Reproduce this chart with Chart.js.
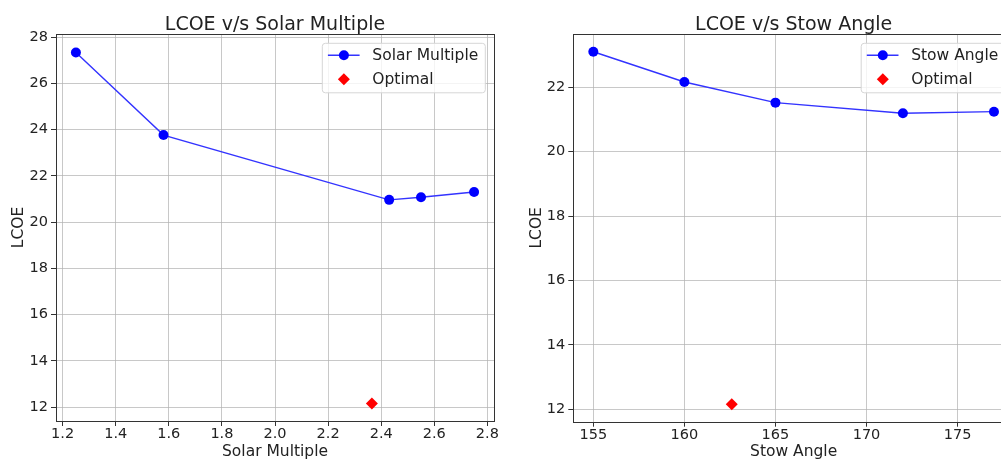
<!DOCTYPE html>
<html>
<head>
<meta charset="utf-8">
<script src="https://cdn.jsdelivr.net/npm/chart.js@4.4.0/dist/chart.umd.min.js"></script>
<style>
  html, body { margin: 0; padding: 0; background: #fff; overflow: hidden; }
  #wrap { position: relative; width: 1001px; height: 461px; overflow: hidden; }
  #c1 { position: absolute; left: 0; top: 0; }
  #c2 { position: absolute; left: 500px; top: 0; }
</style>
</head>
<body>
<div id="wrap">
  <canvas id="c1" width="500" height="461"></canvas>
  <canvas id="c2" width="530" height="461"></canvas>
</div>
<script>
// ---------- data ----------
const solarMultiple = [1.25, 1.58, 2.43, 2.55, 2.75];
const lcoeSolar = [27.33, 23.76, 20.96, 21.07, 21.30];
const solarOptimalX = [2.365];
const solarOptimalY = [12.16];

const stowAngle = [155, 160, 165, 172, 177];
const lcoeStow = [23.10, 22.16, 21.52, 21.19, 21.24];
const stowOptimalX = [162.6];
const stowOptimalY = [12.16];

// tick labels
const solarXTicks = [1.2, 1.4, 1.6, 1.8, 2.0, 2.2, 2.4, 2.6, 2.8];
const solarYTicks = [12, 14, 16, 18, 20, 22, 24, 26, 28];
const stowXTicks = [155, 160, 165, 170, 175];
const stowYTicks = [12, 14, 16, 18, 20, 22];

const FONT = 'DejaVu Sans';
const TEXT = '#222';
const GRID = 'rgba(176,176,176,0.7)';

const pts = (xs, ys) => xs.map((x, i) => ({ x: x, y: ys[i] }));

// title, spines and a matplotlib style legend
const framePlugin = {
  id: 'frame',
  afterDraw(chart, args, opts) {
    const ctx = chart.ctx;
    const a = chart.chartArea;
    ctx.save();
    // title
    ctx.fillStyle = TEXT;
    ctx.font = `19px "${FONT}"`;
    ctx.textAlign = 'center';
    ctx.textBaseline = 'alphabetic';
    ctx.fillText(opts.title, (a.left + a.right) / 2, 30);
    // spines
    ctx.strokeStyle = '#333';
    ctx.lineWidth = 1;
    ctx.strokeRect(Math.round(a.left) + 0.5, Math.round(a.top) + 0.5,
      Math.round(a.right - a.left), Math.round(a.bottom - a.top));
    // legend
    ctx.font = `15.5px "${FONT}"`;
    const sets = chart.data.datasets;
    const tw = Math.max(...sets.map(d => ctx.measureText(d.label).width));
    const bw = 50 + tw + 7;
    const bh = 49.5;
    const bx = a.right - 8.7 - bw;
    const by = a.top + 9.3;
    ctx.beginPath();
    ctx.roundRect(bx, by, bw, bh, 3);
    ctx.fillStyle = 'rgba(255,255,255,0.8)';
    ctx.fill();
    ctx.strokeStyle = '#d6d6d6';
    ctx.stroke();
    sets.forEach((d, i) => {
      const y = by + 12 + i * 24;
      const mx = bx + 21.6;
      if (d.showLine) {
        ctx.beginPath();
        ctx.moveTo(bx + 5.6, y);
        ctx.lineTo(bx + 37.3, y);
        ctx.strokeStyle = d.borderColor;
        ctx.lineWidth = d.borderWidth;
        ctx.stroke();
      }
      ctx.fillStyle = d.pointBackgroundColor;
      ctx.beginPath();
      if (d.pointStyle === 'circle') {
        ctx.arc(mx, y, d.pointRadius, 0, Math.PI * 2);
      } else {
        const r = d.pointRadius;
        ctx.moveTo(mx, y - r); ctx.lineTo(mx + r, y); ctx.lineTo(mx, y + r); ctx.lineTo(mx - r, y);
        ctx.closePath();
      }
      ctx.fill();
      ctx.fillStyle = TEXT;
      ctx.textAlign = 'left';
      ctx.textBaseline = 'middle';
      ctx.fillText(d.label, bx + 50, y + 1);
    });
    ctx.restore();
  }
};

function makeChart(id, cfg) {
  return new Chart(document.getElementById(id), {
    type: 'scatter',
    data: {
      datasets: [{
        label: cfg.seriesLabel,
        data: pts(cfg.xs, cfg.ys),
        showLine: true,
        borderColor: '#3333ff',
        borderWidth: 1.4,
        pointStyle: 'circle',
        pointRadius: 5,
        pointHoverRadius: 5,
        pointBackgroundColor: '#0000ff',
        pointBorderWidth: 0
      }, {
        label: 'Optimal',
        data: pts(cfg.ox, cfg.oy),
        showLine: false,
        pointStyle: 'rectRot',
        pointRadius: 6,
        pointHoverRadius: 6,
        pointBackgroundColor: '#ff0000',
        pointBorderWidth: 0
      }]
    },
    options: {
      responsive: false,
      animation: false,
      layout: { padding: { left: 0, right: cfg.padRight, top: 34, bottom: 0 } },
      plugins: {
        legend: { display: false },
        tooltip: { enabled: false },
        frame: { title: cfg.title }
      },
      scales: {
        x: {
          type: 'linear',
          min: cfg.xMin, max: cfg.xMax,
          afterFit: s => { s.height = cfg.xAxisH; },
          afterBuildTicks: s => { s.ticks = cfg.xTicks.map(v => ({ value: v })); },
          grid: { color: GRID, lineWidth: 1, drawTicks: true, tickLength: 5, tickColor: '#333', tickWidth: 1 },
          border: { display: false },
          ticks: {
            color: TEXT, font: { family: FONT, size: 14.5 }, padding: 0,
            maxRotation: 0, autoSkip: false,
            callback: cfg.xFmt
          },
          title: {
            display: true, text: cfg.xLabel, color: TEXT,
            font: { family: FONT, size: 15.5 }, padding: { top: 0, bottom: 0 }
          }
        },
        y: {
          type: 'linear',
          min: cfg.yMin, max: cfg.yMax,
          afterFit: s => { s.width = cfg.yAxisW; },
          afterBuildTicks: s => { s.ticks = cfg.yTicks.map(v => ({ value: v })); },
          grid: { color: GRID, lineWidth: 1, drawTicks: true, tickLength: 5, tickColor: '#333', tickWidth: 1 },
          border: { display: false },
          ticks: {
            color: TEXT, font: { family: FONT, size: 14.5 }, padding: 3,
            autoSkip: false,
            callback: v => String(v)
          },
          title: {
            display: true, text: 'LCOE', color: TEXT,
            font: { family: FONT, size: 15.5 }, padding: { top: cfg.yTitlePad, bottom: 0 }
          }
        }
      }
    },
    plugins: [framePlugin]
  });
}

makeChart('c1', {
  title: 'LCOE v/s Solar Multiple',
  seriesLabel: 'Solar Multiple',
  xLabel: 'Solar Multiple',
  xs: solarMultiple, ys: lcoeSolar, ox: solarOptimalX, oy: solarOptimalY,
  xTicks: solarXTicks, yTicks: solarYTicks,
  xMin: 1.175, xMax: 2.825, yMin: 11.40, yMax: 28.13,
  xFmt: v => v.toFixed(1),
  padRight: 4, yAxisW: 56, xAxisH: 40, yTitlePad: 10
});

makeChart('c2', {
  title: 'LCOE v/s Stow Angle',
  seriesLabel: 'Stow Angle',
  xLabel: 'Stow Angle',
  xs: stowAngle, ys: lcoeStow, ox: stowOptimalX, oy: stowOptimalY,
  xTicks: stowXTicks, yTicks: stowYTicks,
  xMin: 153.9, xMax: 178.1, yMin: 11.62, yMax: 23.65,
  xFmt: v => String(v),
  padRight: 16, yAxisW: 73.3, xAxisH: 39.3, yTitlePad: 27.7
});
</script>
</body>
</html>
